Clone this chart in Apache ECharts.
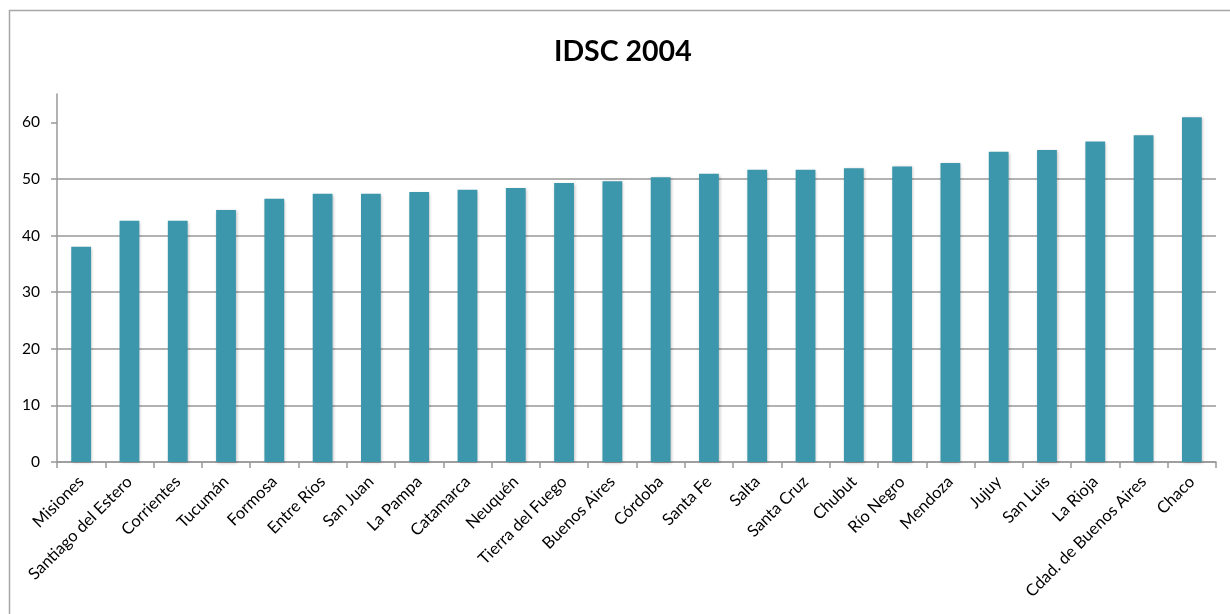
<!DOCTYPE html>
<html>
<head>
<meta charset="utf-8">
<script src="https://cdn.jsdelivr.net/npm/echarts@6/dist/echarts.min.js"></script>
<style>
html,body{margin:0;padding:0;background:#fff;}
#chart{width:1230px;height:614px;}
</style>
</head>
<body>
<div id="chart"></div>
<script>
const titleText = 'IDSC 2004';
const provinces = ['Misiones','Santiago del Estero','Corrientes','Tucumán','Formosa','Entre Ríos','San Juan','La Pampa','Catamarca','Neuquén','Tierra del Fuego','Buenos Aires','Córdoba','Santa Fe','Salta','Santa Cruz','Chubut','Río Negro','Mendoza','Jujuy','San Luis','La Rioja','Cdad. de Buenos Aires','Chaco'];
const idsc = [38.0,42.6,42.6,44.5,46.5,47.4,47.4,47.7,48.1,48.4,49.3,49.6,50.3,50.9,51.6,51.6,51.9,52.2,52.8,54.8,55.1,56.6,57.7,60.9];
const yTicks = [0,10,20,30,40,50,60];

const chart = echarts.init(document.getElementById('chart'), null, {renderer:'canvas'});
const font = 'Lato, "Open Sans", sans-serif';
chart.setOption({
  animation:false,
  backgroundColor:'#fff',
  title:{
    text:titleText, left:549, top:32,
    textStyle:{fontFamily:font, fontWeight:'bold', fontSize:28.5, color:'#000'}
  },
  graphic:[{
    type:'rect', shape:{x:9.5,y:10.5,width:1300,height:700},
    style:{fill:'none', stroke:'#a6a6a6', lineWidth:1.5}, silent:true
  }],
  grid:{left:57, right:14, top:94, bottom:152},
  xAxis:{
    type:'category', data:provinces,
    axisLine:{lineStyle:{color:'#999', width:1.5}},
    axisTick:{show:true, length:6, lineStyle:{color:'#999', width:1.5}},
    axisLabel:{interval:0, rotate:45, margin:17, color:'#000', fontFamily:font, fontSize:16.5}
  },
  yAxis:{
    type:'value', min:0, max:65, interval:10,
    axisLine:{show:true, lineStyle:{color:'#999', width:1.5}},
    axisTick:{show:true, length:6, lineStyle:{color:'#999', width:1.5}, customValues:yTicks},
    axisLabel:{color:'#000', fontFamily:font, fontSize:15.5, margin:17, customValues:yTicks},
    splitLine:{show:true, showMaxLine:false, lineStyle:{color:'#999', width:1.5}}
  },
  series:[{
    type:'bar', data:idsc, barWidth:'41%',
    itemStyle:{color:'#3c97ac', shadowColor:'rgba(0,0,0,0.25)', shadowBlur:3, shadowOffsetX:1, shadowOffsetY:1}
  }]
});
</script>
</body>
</html>
